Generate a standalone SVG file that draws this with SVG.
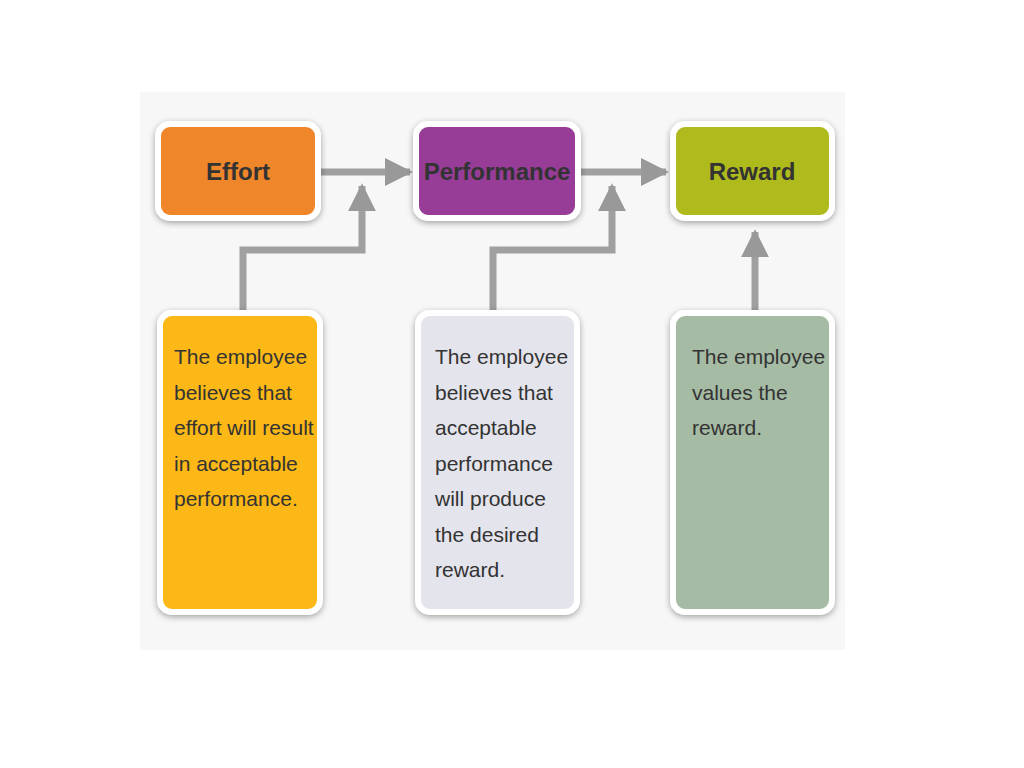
<svg xmlns="http://www.w3.org/2000/svg" width="1024" height="768" viewBox="0 0 1024 768">
<defs>
<filter id="sh" x="-20%" y="-20%" width="140%" height="140%"><feDropShadow dx="0" dy="2" stdDeviation="3" flood-color="#000" flood-opacity="0.35"/></filter>
<marker id="ah" viewBox="0 0 10 10" refX="9" refY="5" markerWidth="4" markerHeight="4" orient="auto"><path d="M0,0 L10,5 L0,10 z" fill="#999"/></marker>
<style>
.b{stroke:#fff;stroke-width:6;filter:url(#sh)}
.t{font-family:"Liberation Sans",Arial,sans-serif;font-size:24px;font-weight:bold;fill:#333;text-anchor:middle}
.d{font-family:"Liberation Sans",Arial,sans-serif;font-size:21px;fill:#333}
.c{fill:none;stroke:#a0a0a0;stroke-width:7;marker-end:url(#ah)}
</style>
</defs>
<rect width="1024" height="768" fill="#fff"/>
<rect x="140" y="92" width="705" height="558" fill="#f7f7f7"/>
<g id="connectors">
<path class="c" d="M321,172 H410"/>
<path class="c" d="M581,172 H666"/>
<path class="c" d="M243,310 V250 H362 V186"/>
<path class="c" d="M493,310 V250 H612 V186"/>
<path class="c" d="M755,310 V232"/>
</g>
<g id="effort"><rect class="b" x="158" y="124" width="160" height="94" rx="12" fill="#F0862A"/><text class="t" x="238" y="180">Effort</text></g>
<g id="performance"><rect class="b" x="416" y="124" width="162" height="94" rx="12" fill="#973D97"/><text class="t" x="497" y="180">Performance</text></g>
<g id="reward"><rect class="b" x="673" y="124" width="159" height="94" rx="12" fill="#AFBA1E"/><text class="t" x="752" y="180">Reward</text></g>
<g id="box1"><rect class="b" x="160" y="313" width="160" height="299" rx="12" fill="#FBB812"/>
<text class="d" x="174" y="364"><tspan x="174">The employee</tspan><tspan x="174" dy="35.5">believes that</tspan><tspan x="174" dy="35.5">effort will result</tspan><tspan x="174" dy="35.5">in acceptable</tspan><tspan x="174" dy="35.5">performance.</tspan></text></g>
<g id="box2"><rect class="b" x="418" y="313" width="159" height="299" rx="12" fill="#E4E4EC"/>
<text class="d" x="435" y="364"><tspan x="435">The employee</tspan><tspan x="435" dy="35.5">believes that</tspan><tspan x="435" dy="35.5">acceptable</tspan><tspan x="435" dy="35.5">performance</tspan><tspan x="435" dy="35.5">will produce</tspan><tspan x="435" dy="35.5">the desired</tspan><tspan x="435" dy="35.5">reward.</tspan></text></g>
<g id="box3"><rect class="b" x="673" y="313" width="159" height="299" rx="12" fill="#A6BBA4"/>
<text class="d" x="692" y="364"><tspan x="692">The employee</tspan><tspan x="692" dy="35.5">values the</tspan><tspan x="692" dy="35.5">reward.</tspan></text></g>
</svg>
